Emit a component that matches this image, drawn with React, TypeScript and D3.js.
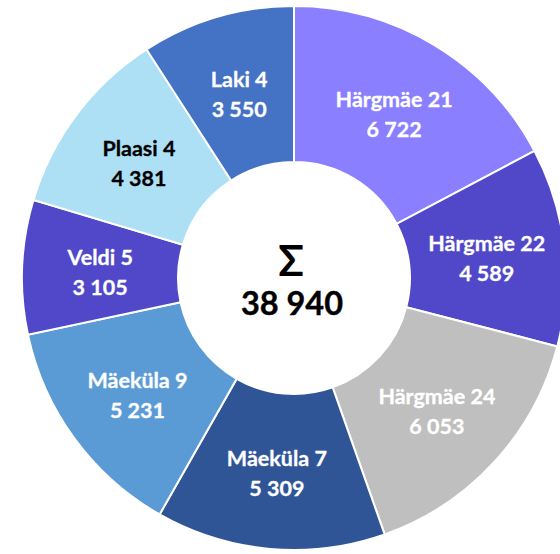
import React from 'react';
import * as d3 from 'd3';

// buildings and their values, clockwise from the top
const names = ['Härgmäe 21', 'Härgmäe 22', 'Härgmäe 24', 'Mäeküla 7', 'Mäeküla 9', 'Veldi 5', 'Plaasi 4', 'Laki 4'];
const amounts = [6722, 4589, 6053, 5309, 5231, 3105, 4381, 3550];

const sliceColors = ['#8a7fff', '#5048c8', '#bfbfbf', '#2f5597', '#5b9bd5', '#5048c8', '#addff5', '#4472c4'];
const labelColors = ['#fff', '#fff', '#fff', '#fff', '#fff', '#fff', '#000', '#fff'];

const W = 560;
const H = 554;
const cx = 294;
const cy = 278;
const outerR = 272;
const innerR = 116;

const fmt = (v: number) => d3.format(',')(v).replace(/,/g, ' ');

export default function App() {
  const rows = names.map((n, i) => ({ name: n, value: amounts[i], i }));
  const pie = d3.pie<any>().sort(null).value(d => d.value);
  const arcs = pie(rows);
  const arc = d3.arc<any>().innerRadius(innerR).outerRadius(outerR);
  const total = d3.sum(amounts);

  return (
    <svg width={W} height={H} style={{ position: 'absolute', left: 0, top: 0, background: '#fff' }}
      fontFamily="Lato, 'Open Sans', sans-serif" fontWeight="bold">
      <g transform={`translate(${cx},${cy})`}>
        {arcs.map(a => (
          <path key={a.data.name} d={arc(a) || ''} fill={sliceColors[a.data.i]} stroke="#fff" strokeWidth={2} />
        ))}
        {arcs.map(a => {
          const [x, y] = arc.centroid(a);
          return (
            <text key={'t' + a.data.name} x={x} y={y} textAnchor="middle" fontSize={21.5}
              fill={labelColors[a.data.i]} stroke={labelColors[a.data.i]} strokeWidth={0.3}>
              <tspan x={x} dy={-5}>{a.data.name}</tspan>
              <tspan x={x} dy={30}>{fmt(a.data.value)}</tspan>
            </text>
          );
        })}
        <text x={-3} y={-2} textAnchor="middle" fontSize={42} fill="#000">Σ</text>
        <text x={-2} y={37} textAnchor="middle" fontSize={32.5} fill="#000" stroke="#000" strokeWidth={0.4}>{fmt(total)}</text>
      </g>
    </svg>
  );
}
